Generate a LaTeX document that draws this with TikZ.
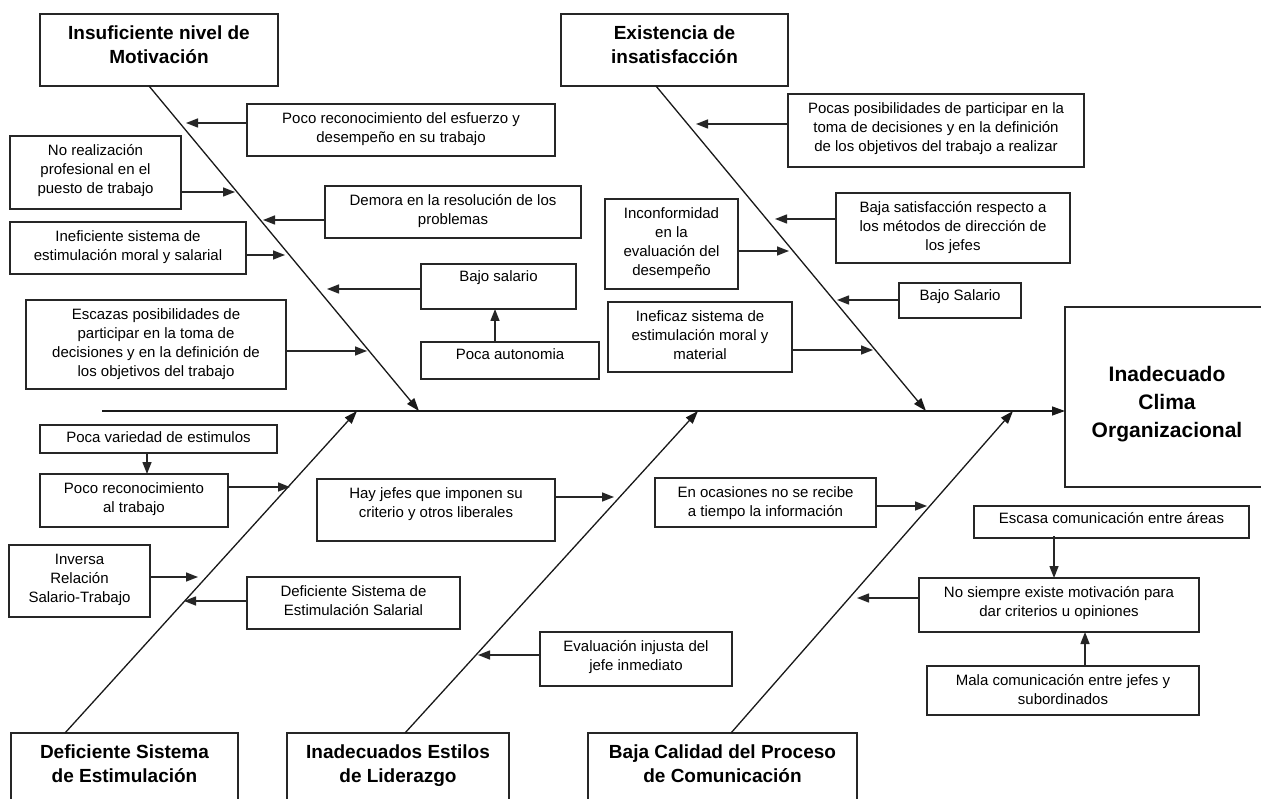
\documentclass[tikz,border=0pt]{standalone}
\usepackage{fontspec}
\setmainfont{Liberation Sans}
\usetikzlibrary{arrows.meta,calc}
\newcommand\fstrut{\rule{0pt}{12pt}}
\newcommand\tstrut{\rule{0pt}{15pt}}
\begin{document}
\begin{tikzpicture}[x=1pt,y=-1pt,
  box/.style={draw=black!85, line width=1.5pt, anchor=north west, inner sep=0pt, outer sep=0pt},
  txt/.style={anchor=north, align=center, inner sep=0pt, font=\fontsize{15}{19}\selectfont},
  ttl/.style={anchor=north, align=center, inner sep=0pt, font=\bfseries\fontsize{19}{24}\selectfont},
  arr/.style={-{Triangle[length=12pt,width=9pt]}, line width=1.4pt, draw=black!85},
  spine/.style={-{Triangle[length=13pt,width=9pt]}, line width=1.3pt, draw=black!90}]
\useasboundingbox (0,0) rectangle (1261,799);
\clip (0,0) rectangle (1261,799);
\fill[white] (0,0) rectangle (1261,799);

% ---------- category (title) boxes ----------
\node[box, minimum width=238pt, minimum height=72pt] (T1) at (40,14) {};
\node[ttl] (T1t) at ([yshift=-10pt]T1.north) {\tstrut Insuficiente nivel de\\Motivación};
\node[box, minimum width=227pt, minimum height=72pt] (T2) at (561,14) {};
\node[ttl] (T2t) at ([yshift=-10pt]T2.north) {\tstrut Existencia de\\insatisfacción};
\node[box, minimum width=227pt, minimum height=90pt] (T3) at (11,733) {};
\node[ttl] (T3t) at ([yshift=-10pt]T3.north) {\tstrut Deficiente Sistema\\de Estimulación};
\node[box, minimum width=222pt, minimum height=90pt] (T4) at (287,733) {};
\node[ttl] (T4t) at ([yshift=-10pt]T4.north) {\tstrut Inadecuados Estilos\\de Liderazgo};
\node[box, minimum width=269pt, minimum height=90pt] (T5) at (588,733) {};
\node[ttl] (T5t) at ([yshift=-10pt]T5.north) {\tstrut Baja Calidad del Proceso\\de Comunicación};

% ---------- effect ----------
\node[box, minimum width=212pt, minimum height=180pt] (E) at (1065,307) {};
\node[align=center, inner sep=0pt, font=\bfseries\fontsize{21}{28}\selectfont] (Et) at (1167,404) {Inadecuado\\Clima\\Organizacional};

% ---------- cause boxes ----------
\node[box, minimum width=308pt, minimum height=52pt] (b1) at (247,104) {};
\node[txt] at ([yshift=-7pt]b1.north) {\fstrut Poco reconocimiento del esfuerzo y\\desempeño en su trabajo};
\node[box, minimum width=171pt, minimum height=73pt] (b2) at (10,136) {};
\node[txt] at ([yshift=-7.5pt]b2.north) {\fstrut No realización\\profesional en el\\puesto de trabajo};
\node[box, minimum width=256pt, minimum height=52pt] (b3) at (325,186) {};
\node[txt] at ([yshift=-7pt]b3.north) {\fstrut Demora en la resolución de los\\problemas};
\node[box, minimum width=236pt, minimum height=52pt] (b4) at (10,222) {};
\node[txt] at ([yshift=-7pt]b4.north) {\fstrut Ineficiente sistema de\\estimulación moral y salarial};
\node[box, minimum width=155pt, minimum height=45pt] (b5) at (421,264) {};
\node[txt] at ([yshift=-5.5pt]b5.north) {\fstrut Bajo salario};
\node[box, minimum width=260pt, minimum height=89pt] (b6) at (26,300) {};
\node[txt] at ([yshift=-7pt]b6.north) {\fstrut Escazas posibilidades de\\participar en la toma de\\decisiones y en la definición de\\los objetivos del trabajo};
\node[box, minimum width=178pt, minimum height=37pt] (b7) at (421,342) {};
\node[txt] at ([yshift=-5pt]b7.north) {\fstrut Poca autonomia};
\node[box, minimum width=296pt, minimum height=73pt] (b8) at (788,94) {};
\node[txt] at ([yshift=-7.5pt]b8.north) {\fstrut Pocas posibilidades de participar en la\\toma de decisiones y en la definición\\de los objetivos del trabajo a realizar};
\node[box, minimum width=133pt, minimum height=90pt] (b9) at (605,199) {};
\node[txt] at ([yshift=-7.5pt]b9.north) {\fstrut Inconformidad\\en la\\evaluación del\\desempeño};
\node[box, minimum width=234pt, minimum height=70pt] (b10) at (836,193) {};
\node[txt] at ([yshift=-7.5pt]b10.north) {\fstrut Baja satisfacción respecto a\\los métodos de dirección de\\los jefes};
\node[box, minimum width=122pt, minimum height=35pt] (b11) at (899,283) {};
\node[txt] at ([yshift=-5.5pt]b11.north) {\fstrut Bajo Salario};
\node[box, minimum width=184pt, minimum height=70pt] (b12) at (608,302) {};
\node[txt] at ([yshift=-7pt]b12.north) {\fstrut Ineficaz sistema de\\estimulación moral y\\material};
\node[box, minimum width=237pt, minimum height=28pt] (b13) at (40,425) {};
\node[txt] at ([yshift=-5.5pt]b13.north) {\fstrut Poca variedad de estimulos};
\node[box, minimum width=188pt, minimum height=53pt] (b14) at (40,474) {};
\node[txt] at ([yshift=-7.5pt]b14.north) {\fstrut Poco reconocimiento\\al trabajo};
\node[box, minimum width=141pt, minimum height=72pt] (b15) at (9,545) {};
\node[txt] at ([yshift=-7.5pt]b15.north) {\fstrut Inversa\\Relación\\Salario-Trabajo};
\node[box, minimum width=213pt, minimum height=52pt] (b16) at (247,577) {};
\node[txt] at ([yshift=-7pt]b16.north) {\fstrut Deficiente Sistema de\\Estimulación Salarial};
\node[box, minimum width=238pt, minimum height=62pt] (b17) at (317,479) {};
\node[txt] at ([yshift=-7.5pt]b17.north) {\fstrut Hay jefes que imponen su\\criterio y otros liberales};
\node[box, minimum width=192pt, minimum height=54pt] (b18) at (540,632) {};
\node[txt] at ([yshift=-7.5pt]b18.north) {\fstrut Evaluación injusta del\\jefe inmediato};
\node[box, minimum width=221pt, minimum height=49pt] (b19) at (655,478) {};
\node[txt] at ([yshift=-7pt]b19.north) {\fstrut En ocasiones no se recibe\\a tiempo la información};
\node[box, minimum width=275pt, minimum height=32pt] (b20) at (974,506) {};
\node[txt] at ([yshift=-5pt]b20.north) {\fstrut Escasa comunicación entre áreas};
\node[box, minimum width=280pt, minimum height=54pt] (b21) at (919,578) {};
\node[txt] at ([yshift=-7.5pt]b21.north) {\fstrut No siempre existe motivación para\\dar criterios u opiniones};
\node[box, minimum width=272pt, minimum height=49pt] (b22) at (927,666) {};
\node[txt] at ([yshift=-7.5pt]b22.north) {\fstrut Mala comunicación entre jefes y\\subordinados};

% ---------- main line and spines ----------
\coordinate (M0) at (102,411);
\draw[spine] (M0) -- (E.west |- M0);
\coordinate (tA) at (419,411);
\coordinate (tB) at (926,411);
\coordinate (tC) at (357,411);
\coordinate (tD) at (698,411);
\coordinate (tE) at (1013,411);
\draw[spine] (T1.south west -| 149,0) -- (tA);
\draw[spine] (T2.south west -| 656,0) -- (tB);
\draw[spine] (T3.north west -| 65,0) -- (tC);
\draw[spine] (T4.north west -| 405,0) -- (tD);
\draw[spine] (T5.north west -| 731,0) -- (tE);

% ---------- cause arrows ----------
\coordinate (p1) at (186,123);  \draw[arr] (b1.west |- p1) -- (p1);
\coordinate (p2) at (235,192);  \draw[arr] (b2.east |- p2) -- (p2);
\coordinate (p3) at (263,220);  \draw[arr] (b3.west |- p3) -- (p3);
\coordinate (p4) at (285,255);  \draw[arr] (b4.east |- p4) -- (p4);
\coordinate (p5) at (327,289);  \draw[arr] (b5.west |- p5) -- (p5);
\coordinate (p6) at (367,351);  \draw[arr] (b6.east |- p6) -- (p6);
\coordinate (p7) at (495,0);    \draw[arr] (b7.north -| p7) -- (b5.south -| p7);
\coordinate (p8) at (696,124);  \draw[arr] (b8.west |- p8) -- (p8);
\coordinate (p9) at (789,251);  \draw[arr] (b9.east |- p9) -- (p9);
\coordinate (p10) at (775,219); \draw[arr] (b10.west |- p10) -- (p10);
\coordinate (p11) at (837,300); \draw[arr] (b11.west |- p11) -- (p11);
\coordinate (p12) at (873,350); \draw[arr] (b12.east |- p12) -- (p12);
\coordinate (p13) at (147,0);   \draw[arr] (b13.south -| p13) -- (b14.north -| p13);
\coordinate (p14) at (290,487); \draw[arr] (b14.east |- p14) -- (p14);
\coordinate (p15) at (198,577); \draw[arr] (b15.east |- p15) -- (p15);
\coordinate (p16) at (184,601); \draw[arr] (b16.west |- p16) -- (p16);
\coordinate (p17) at (614,497); \draw[arr] (b17.east |- p17) -- (p17);
\coordinate (p18) at (478,655); \draw[arr] (b18.west |- p18) -- (p18);
\coordinate (p19) at (927,506); \draw[arr] (b19.east |- p19) -- (p19);
\coordinate (p20) at (1054,0);  \draw[arr] ([yshift=2pt]b20.south -| p20) -- (b21.north -| p20);
\coordinate (p21) at (857,598); \draw[arr] (b21.west |- p21) -- (p21);
\coordinate (p22) at (1085,0);  \draw[arr] (b22.north -| p22) -- (b21.south -| p22);
\end{tikzpicture}
\end{document}
